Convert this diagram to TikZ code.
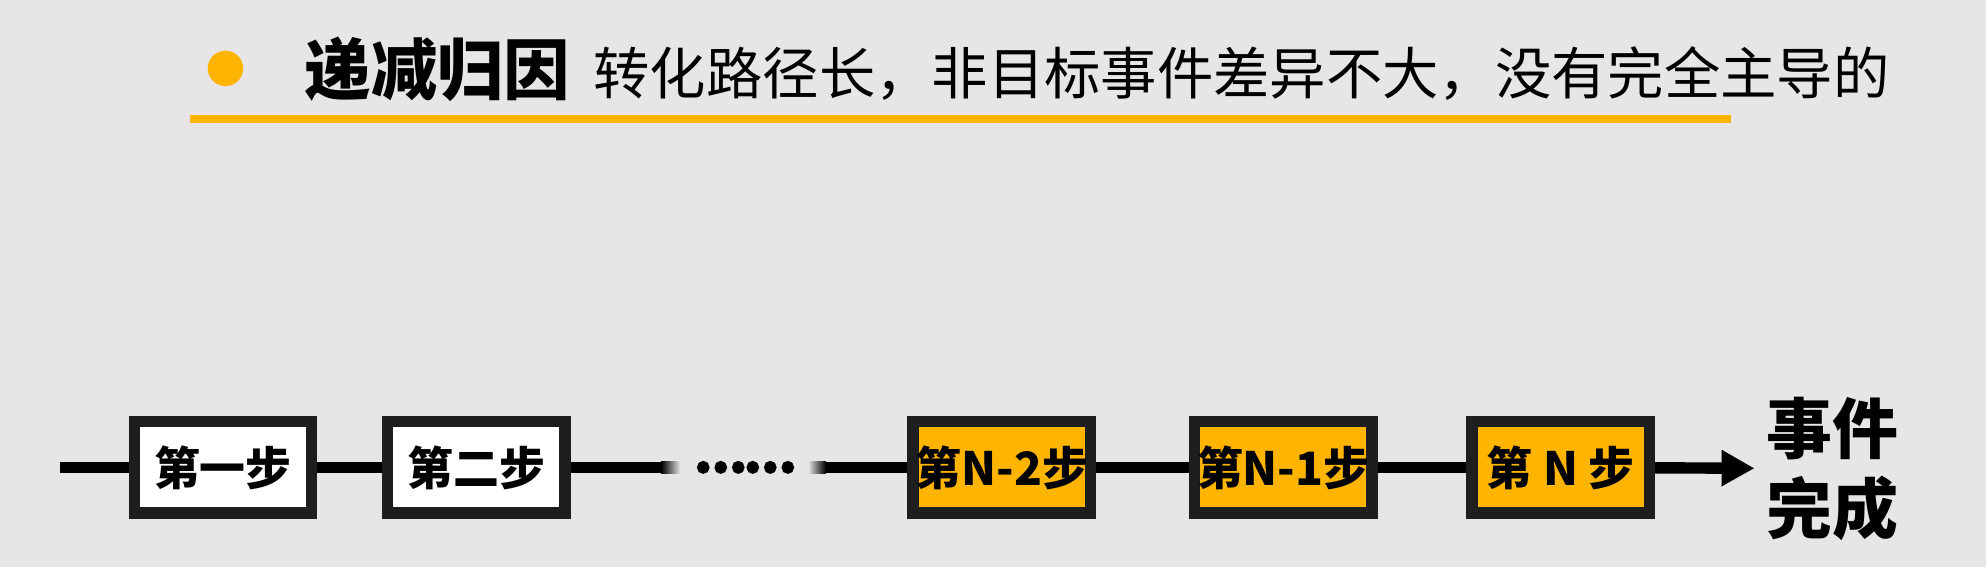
\documentclass[tikz,border=0pt]{standalone}
\usepackage{fontspec}
\setmainfont{Noto Sans CJK SC}
\newfontfamily\dotfont{Noto Sans CJK SC}[FakeBold=13]
\usetikzlibrary{positioning}
\usetikzlibrary{arrows.meta}
\definecolor{bg}{HTML}{E7E5E8}
\definecolor{gold}{HTML}{FFB400}
\definecolor{boxline}{HTML}{1E1E1E}
\tikzstyle{stepbox} = [rectangle,fill=white,draw=boxline,line width=0.09cm,
minimum width=1.40cm, minimum height=0.72cm, inner sep=0pt,
font=\bfseries\fontsize{10.3}{12}\selectfont, node distance=0.51cm]
\tikzstyle{hotbox} = [stepbox,fill=gold]
\tikzstyle{link} = [draw=black,line width=0.09cm]
\tikzstyle{caption} = [inner sep=0pt, anchor=base west]
\tikzset{>={Triangle[length=0.26cm,width=0.27cm]}}
\newcommand{\joinup}[3][]{ %
  % Join every node in #2 to every node in #3.
  \foreach \x in {#2} { %
    \foreach \y in {#3} { %
      \draw[link,#1] (\x) -- (\y) ;%
    } ;
  } ;
}

\begin{document}
\begin{tikzpicture}[x=0.01cm,y=-0.01cm]
  \fill[bg] (0,0) rectangle (1568,448);

  % heading
  \fill[gold] (178,54) circle (14);
  \node[caption, font=\bfseries\fontsize{14.9}{15}\selectfont] (title) at (240,75) {递减归因};
  \node[caption, font=\fontsize{12.65}{14}\selectfont] (sub) at (468,75)
    {转化路径长，非目标事件差异不大，没有完全主导的};
  \fill[gold] (150,91) rectangle (1367,97);

  % steps
  \node[stepbox] (b1) at (176,369) {第一步};
  \node[stepbox, right=of b1] (b2) {第二步};
  \node[inner sep=0pt, font=\dotfont\fontsize{10.5}{11}\selectfont] (dots) at (588,369) {……};
  \node[hotbox] (b3) at (791,369) {第N-2步};
  \node[hotbox, right=0.73cm of b3] (b4) {第N-1步};
  \node[hotbox, right=0.70cm of b4] (b5) {第 N 步};
  \node[inner xsep=0.09cm, inner ysep=0pt, align=center,
    font=\bfseries\fontsize{14.8}{17.9}\selectfont] (done) at (1447,370) {事件\\完成};

  \coordinate (start) at (47,369);
  \coordinate (fadeout) at (522,369);
  \coordinate (fadein) at (652,369);
  \joinup {start} {b1};
  \joinup {b1} {b2};
  \joinup {b2} {fadeout};
  \joinup {fadein} {b3};
  \joinup {b3} {b4};
  \joinup {b4} {b5};
  \joinup[->] {b5} {done};
  \shade[left color=black, right color=bg] (522,364.5) rectangle (537,373.5);
  \shade[left color=bg, right color=black] (638,364.5) rectangle (652,373.5);
\end{tikzpicture}
\end{document}
